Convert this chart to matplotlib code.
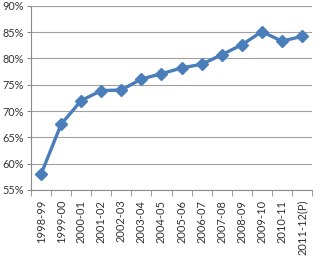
import numpy as np
import matplotlib
matplotlib.use("Agg")
import matplotlib.pyplot as plt
from matplotlib.ticker import FuncFormatter, MultipleLocator

years = ['1998-99', '1999-00', '2000-01', '2001-02', '2002-03', '2003-04', '2004-05',
         '2005-06', '2006-07', '2007-08', '2008-09', '2009-10', '2010-11', '2011-12(P)']
share = [58.0, 67.5, 72.0, 73.9, 74.0, 76.1, 77.1, 78.2, 78.9, 80.7, 82.6, 85.1, 83.3, 84.2]

plt.rcParams['font.family'] = ['Lato', 'DejaVu Sans']

def main():
    fig = plt.figure(figsize=(3.2, 2.56), dpi=100)
    ax = fig.add_axes([0.097, 0.258, 0.878, 0.719])

    x = np.arange(len(years))
    ax.plot(x, share, color='#4A7EBB', lw=2.4, marker='D', ms=6.5,
            markerfacecolor='#4A7EBB', markeredgecolor='#4A7EBB', zorder=3)

    ax.set_ylim(55, 90)
    ax.set_xlim(-0.5, len(years) - 0.5)
    ax.yaxis.set_major_locator(MultipleLocator(5))
    ax.yaxis.set_major_formatter(FuncFormatter(lambda v, p: "{:.0f}%".format(v)))
    ax.grid(axis='y', color='#a0a0a0', lw=0.8)
    ax.set_axisbelow(True)

    ax.set_xticks(x)
    ax.set_xticklabels(years, rotation=90, fontsize=8, color='#333333')
    ax.set_xticks(np.arange(-0.5, len(years)), minor=True)
    ax.tick_params(axis='x', which='major', length=0, pad=7)
    ax.tick_params(axis='x', which='minor', length=4, color='#8a8a8a', direction='out')
    ax.tick_params(axis='y', length=3, color='#8a8a8a', labelsize=7.8, labelcolor='#333333', pad=2)

    for s in ['top', 'right']:
        ax.spines[s].set_visible(False)
    for s in ['left', 'bottom']:
        ax.spines[s].set_color('#8a8a8a')
        ax.spines[s].set_linewidth(0.8)

    plt.savefig("out.png", dpi=100)

if __name__ == "__main__":
    main()
